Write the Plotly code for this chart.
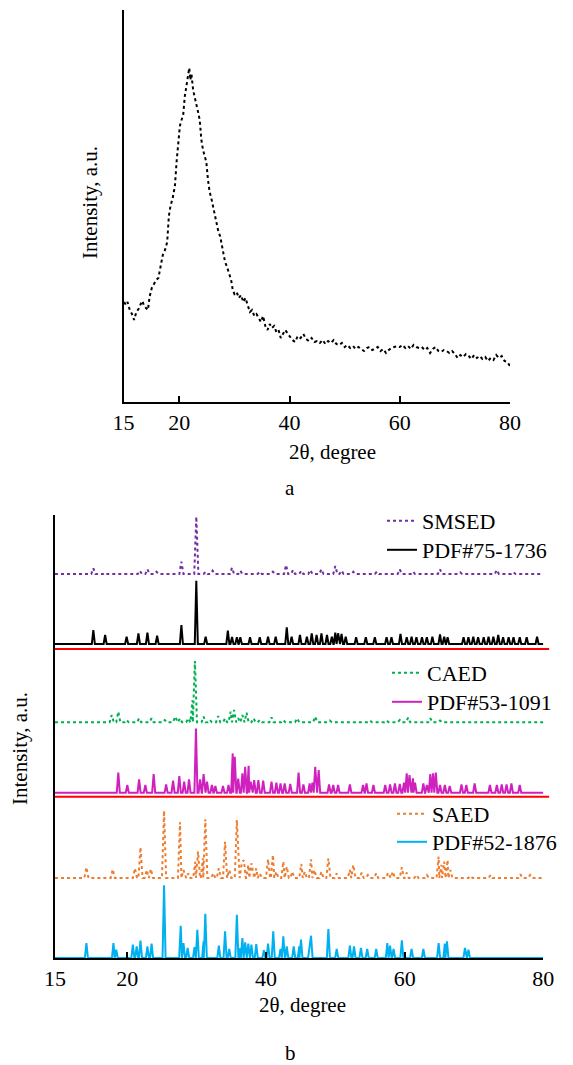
import plotly.graph_objects as go

FONT = "Liberation Serif"

# ---------------- (a) amorphous pattern ----------------
top_theta = [10.0, 10.3, 10.6, 11.0, 11.4, 11.8, 12.2, 12.6, 13.0, 13.3, 13.6, 14.0, 14.3, 14.6,
             15.0, 15.4, 15.8, 16.2, 16.6, 17.0, 17.4, 17.8, 18.1, 18.4, 18.8, 19.2, 19.5, 19.8,
             20.1, 20.4, 20.7, 21.0, 21.3, 21.6, 21.8, 22.0, 22.2, 22.5, 22.8, 23.1, 23.4, 23.7,
             24.0, 24.3, 24.6, 24.9, 25.2, 25.5, 25.8, 26.1, 26.5, 26.8, 27.1, 27.4, 27.7, 28.0,
             28.3, 28.6, 29.0, 29.4, 29.7, 30.0, 30.4, 30.8, 31.2, 31.6, 32.0, 32.4, 32.8, 33.2,
             33.6, 34.0, 34.4, 34.8, 35.2, 35.6, 36.0, 36.4, 36.8, 37.2, 37.6, 38.0, 38.4, 38.8,
             39.2, 39.6, 40.0, 40.5, 41.0, 41.5, 42.0, 42.5, 43.0, 43.5, 44.0, 44.5, 45.0, 45.5,
             46.0, 46.5, 47.0, 47.5, 48.0, 48.5, 49.0, 49.5, 50.0, 50.5, 51.0, 51.5, 52.0, 52.5,
             53.0, 53.5, 54.0, 54.5, 55.0, 55.5, 56.0, 56.5, 57.0, 57.5, 58.0, 58.5, 59.0, 59.5,
             60.0, 60.5, 61.0, 61.5, 62.0, 62.5, 63.0, 63.5, 64.0, 64.5, 65.0, 65.5, 66.0, 66.5,
             67.0, 67.5, 68.0, 68.5, 69.0, 69.5, 70.0, 70.5, 71.0, 71.5, 72.0, 72.5, 73.0, 73.5,
             74.0, 74.5, 75.0, 75.5, 76.0, 76.5, 77.0, 77.5, 78.0, 78.5, 79.0, 79.5, 80.0]
top_intensity = [100, 97, 100, 92, 88, 82, 90, 93, 98, 101, 96, 94, 92, 105,
                 114, 118, 122, 124, 136, 147, 152, 160, 186, 196, 204, 216, 240, 262,
                 276, 282, 287, 306, 318, 325, 334, 322, 328, 312, 305, 300, 290, 282,
                 262, 252, 246, 240, 222, 210, 204, 196, 186, 176, 170, 166, 156, 146,
                 140, 136, 128, 122, 112, 108, 110, 104, 107, 100, 104, 96, 90, 92,
                 86, 88, 84, 80, 86, 76, 72, 78, 74, 76, 70, 72, 64, 68,
                 72, 69, 66, 62, 60, 66, 64, 68, 63, 61, 64, 60, 61, 59,
                 62, 58, 61, 59, 62, 58, 57, 59, 55, 57, 54, 56, 53, 55,
                 53, 51, 54, 55, 52, 53, 55, 51, 53, 49, 52, 54, 55, 56,
                 55, 57, 54, 56, 53, 57, 55, 54, 55, 52, 54, 49, 53, 55,
                 51, 50, 52, 51, 49, 51, 48, 44, 47, 45, 48, 46, 43, 47,
                 44, 46, 43, 45, 41, 44, 42, 47, 44, 46, 41, 40, 36]
top_x_range = [9.87, 80]
top_y_max = 392
x_tick_vals_top = [9.87, 20, 40, 60, 80]
x_tick_text = ["15", "20", "40", "60", "80"]

# ---------------- (b) stacked crystalline patterns ----------------
smsed_pos = [15.1, 16.8, 21.8, 22.9, 24.2, 27.8, 29.95, 31.3, 32.3, 35.1, 36.3, 39.1, 41.0, 42.9,
             43.9, 45.1, 46.4, 48.0, 50.0, 50.9, 52.6, 56.0, 59.3, 61.2, 65.1, 68.0, 73.3, 75.7]
smsed_h = [5.7, 1.3, 3.3, 4.7, 2.3, 12.3, 57.3, 2.3, 3.3, 6.3, 3.3, 2.3, 2.3, 9.0,
           4.0, 3.3, 4.0, 4.7, 8.0, 3.3, 2.3, 2.3, 4.7, 2.3, 4.7, 1.7, 4.0, 1.7]

pdf75_pos = [15.1, 16.8, 19.9, 21.6, 22.9, 24.3, 27.8, 29.95, 31.3, 34.5, 35.1, 35.8, 36.3, 37.7,
             39.1, 40.3, 41.4, 43.0, 43.7, 44.9, 45.9, 46.6, 47.3, 48.0, 48.8, 49.5, 50.0, 50.4,
             50.9, 51.5, 53.0, 54.4, 55.7, 57.4, 58.1, 59.4, 60.3, 61.0, 61.7, 62.5, 63.2, 64.0,
             65.1, 65.7, 66.2, 68.5, 69.2, 69.9, 70.6, 71.4, 72.1, 72.8, 73.5, 74.2, 75.0, 75.7,
             76.6, 77.6, 79.1]
pdf75_h = [14.0, 9.0, 7.3, 10.7, 11.3, 8.3, 19.0, 63.3, 7.3, 13.3, 7.0, 6.7, 6.7, 6.7,
           6.7, 7.3, 7.3, 16.7, 7.3, 9.0, 7.3, 10.7, 9.0, 10.7, 9.0, 7.3, 11.3, 10.7,
           10.0, 7.3, 6.7, 6.7, 6.7, 6.7, 6.7, 10.0, 6.7, 7.3, 6.7, 6.7, 6.7, 7.3,
           9.7, 7.3, 6.7, 6.7, 6.7, 7.3, 6.7, 6.7, 7.3, 7.3, 9.0, 6.7, 6.7, 6.7,
           6.7, 6.7, 7.3]

caed_pos = [17.75, 18.7, 19.9, 21.7, 23.5, 25.4, 26.9, 27.6, 28.8, 29.4, 29.75, 31.0, 31.9, 33.1,
            34.1, 34.9, 35.4, 36.0, 36.6, 37.2, 38.2, 39.1, 40.8, 42.5, 44.5, 47.1, 49.2, 55.0,
            57.4, 59.3, 60.5, 63.7, 65.1]
caed_h = [7.3, 10.7, 2.3, 4.0, 4.0, 2.3, 5.7, 4.0, 4.0, 22.0, 61.3, 5.7, 2.3, 6.3,
          4.0, 10.7, 12.3, 4.0, 7.3, 9.7, 4.0, 2.3, 5.0, 2.3, 4.0, 5.7, 1.7, 1.7,
          1.7, 2.3, 4.7, 4.0, 1.7]

pdf53_pos = [18.7, 20.0, 21.7, 22.6, 23.8, 25.6, 26.6, 27.5, 28.2, 28.9, 29.9, 30.5, 31.0, 31.5,
             32.2, 32.7, 33.8, 34.6, 35.2, 35.5, 36.0, 36.6, 37.0, 37.5, 37.8, 38.3, 38.9, 39.6,
             40.8, 41.5, 42.1, 42.7, 43.5, 44.7, 45.4, 46.3, 46.7, 47.1, 47.6, 49.1, 49.7, 50.4,
             52.1, 54.0, 54.5, 55.5, 57.2, 57.9, 58.6, 59.3, 59.9, 60.3, 60.7, 61.2, 61.5, 62.7,
             63.2, 63.7, 64.1, 64.5, 65.1, 65.8, 66.5, 68.2, 68.9, 70.1, 72.3, 73.3, 74.0, 74.7,
             75.4, 76.6]
pdf53_h = [20.0, 7.7, 13.3, 7.7, 18.7, 8.3, 12.0, 16.7, 11.0, 13.3, 64.3, 13.3, 18.7, 11.0,
           7.7, 6.7, 6.7, 7.7, 39.3, 36.0, 14.0, 19.3, 26.0, 27.0, 11.0, 12.7, 12.7, 12.0,
           11.0, 10.0, 9.3, 9.3, 8.7, 20.0, 8.3, 9.3, 10.0, 26.0, 22.7, 8.3, 7.7, 7.7,
           8.3, 7.7, 9.3, 7.7, 7.7, 8.3, 9.3, 8.7, 10.0, 19.3, 17.7, 14.3, 10.0, 9.3,
           7.7, 18.7, 19.3, 20.0, 7.7, 7.7, 6.7, 8.3, 7.7, 9.3, 7.7, 7.7, 8.3, 8.3,
           9.3, 7.7]

saed_pos = [14.1, 17.9, 21.1, 21.9, 22.8, 23.4, 25.3, 27.6, 28.1, 28.8, 29.8, 30.2, 30.9, 31.25,
            32.4, 33.2, 34.1, 34.7, 35.8, 36.5, 36.8, 37.45, 37.9, 38.6, 39.1, 40.3, 41.0, 41.5,
            42.5, 43.0, 43.8, 45.1, 45.6, 46.5, 47.0, 48.0, 49.0, 50.2, 52.1, 52.6, 53.8, 54.7,
            55.9, 57.6, 58.3, 59.6, 60.3, 61.7, 63.2, 64.9, 65.3, 65.7, 66.2, 66.6, 69.5, 72.4,
            76.7, 78.1]
saed_h = [10.7, 8.7, 9.7, 30.7, 8.0, 9.0, 67.3, 55.7, 8.0, 4.7, 16.3, 26.3, 19.7, 58.7,
          4.7, 9.7, 36.3, 8.0, 58.0, 14.7, 18.0, 13.0, 14.7, 9.7, 4.7, 18.7, 23.0, 6.3,
          16.3, 11.3, 6.3, 14.0, 6.3, 18.7, 8.0, 6.3, 19.7, 4.7, 8.0, 13.0, 5.3, 3.0,
          4.7, 5.3, 6.3, 10.7, 5.3, 3.0, 3.0, 21.3, 13.0, 16.3, 18.0, 8.0, 2.0, 3.0,
          3.7, 3.0]

pdf52_pos = [14.1, 18.0, 18.4, 20.8, 21.35, 21.9, 22.9, 23.5, 25.3, 27.7, 28.1, 28.7, 29.7, 30.1,
             31.0, 31.25, 33.2, 34.1, 34.7, 35.8, 36.3, 36.6, 37.0, 37.45, 37.9, 38.6, 39.7, 40.3,
             41.05, 42.1, 42.5, 43.0, 44.0, 44.8, 45.05, 46.3, 46.5, 49.0, 50.2, 52.1, 52.7, 53.7,
             54.6, 55.9, 57.5, 57.9, 58.4, 59.6, 61.0, 62.7, 64.9, 65.8, 66.1, 68.7, 69.2]
pdf52_h = [15.0, 15.0, 8.3, 13.3, 11.7, 17.3, 11.7, 14.3, 72.7, 32.3, 15.0, 10.0, 11.0, 28.3,
           16.7, 44.3, 12.3, 26.7, 9.0, 43.3, 10.0, 20.0, 15.7, 14.3, 13.3, 14.0, 7.7, 14.3,
           26.7, 9.0, 21.7, 11.7, 11.7, 11.7, 18.3, 11.7, 22.3, 29.0, 9.0, 12.3, 11.7, 10.0,
           9.0, 9.0, 15.0, 12.3, 9.0, 17.7, 9.0, 9.0, 15.0, 14.3, 16.7, 10.0, 8.3]

series_names = ["SMSED", "PDF#75-1736", "CAED", "PDF#53-1091", "SAED", "PDF#52-1876"]
series_offsets = [384, 314, 235.7, 165.3, 80, 0]
separator_levels = [161.3, 309]
bottom_x_range = [9.57, 80]
bottom_y_max = 443
x_tick_vals_bottom = [9.57, 20, 40, 60, 80]


def profile(pos, hgt, offset, hw, xmin, xmax):
    pairs = sorted(zip(pos, hgt))
    xs, ys = [xmin], [offset]
    for i, (p, h) in enumerate(pairs):
        if p - hw > xs[-1]:
            xs.append(p - hw); ys.append(offset)
        xs.append(p); ys.append(offset + h)
        nxt = pairs[i + 1][0] - hw if i + 1 < len(pairs) else xmax
        if p + hw < nxt:
            xs.append(p + hw); ys.append(offset)
    xs.append(xmax); ys.append(offset)
    return xs, ys


W, H = 573, 1065

fig = go.Figure()

fig.add_trace(go.Scatter(x=top_theta, y=top_intensity, mode="lines",
                         line=dict(color="black", width=2, dash="dot"),
                         showlegend=False, xaxis="x", yaxis="y"))

# legend placement (pixels from top-left): left x, top y
styles = [
    dict(data=(smsed_pos, smsed_h), color="#7030A0", dash="dot", hw=0.3, lx=382, ly=500),
    dict(data=(pdf75_pos, pdf75_h), color="#000000", dash="solid", hw=0.22, lx=382, ly=529),
    dict(data=(caed_pos, caed_h), color="#00B050", dash="dot", hw=0.3, lx=387, ly=652),
    dict(data=(pdf53_pos, pdf53_h), color="#D020BE", dash="solid", hw=0.22, lx=387, ly=681),
    dict(data=(saed_pos, saed_h), color="#ED7D31", dash="dot", hw=0.3, lx=392, ly=793),
    dict(data=(pdf52_pos, pdf52_h), color="#00B0F0", dash="solid", hw=0.22, lx=392, ly=821),
]
leg_common = dict(bgcolor="rgba(0,0,0,0)", borderwidth=0,
                  font=dict(family=FONT, size=22, color="black"),
                  xanchor="left", yanchor="top", itemclick=False, itemdoubleclick=False)
legend_layout = {}
for i, (name, off, st) in enumerate(zip(series_names, series_offsets, styles)):
    key = "legend" if i == 0 else f"legend{i + 1}"
    xs, ys = profile(st["data"][0], st["data"][1], off, st["hw"], bottom_x_range[0], 80)
    fig.add_trace(go.Scatter(x=xs, y=ys, mode="lines", name=name,
                             line=dict(color=st["color"], width=2, dash=st["dash"]),
                             legend=key, xaxis="x2", yaxis="y2"))
    legend_layout[key] = dict(x=st["lx"] / W, y=1 - st["ly"] / H, **leg_common)

for lvl in separator_levels:
    fig.add_shape(type="line", xref="x2 domain", yref="y2", x0=0, x1=1.012, y0=lvl, y1=lvl,
                  line=dict(color="#FF0000", width=2))

axis_common = dict(showline=True, linecolor="black", linewidth=2, showgrid=False, zeroline=False,
                   ticks="inside", tickcolor="black", tickwidth=1.5, automargin=False,
                   tickfont=dict(family=FONT, size=22, color="black"))

fig.update_layout(
    width=W, height=H, margin=dict(l=0, r=0, t=0, b=0, autoexpand=False),
    paper_bgcolor="white", plot_bgcolor="white",
    font=dict(family=FONT, color="black"),
    xaxis=dict(domain=[123.5 / W, 510 / W], anchor="y", range=top_x_range,
               tickmode="array", tickvals=x_tick_vals_top, ticktext=x_tick_text, ticklen=6,
               **axis_common),
    yaxis=dict(domain=[1 - 402 / H, 1 - 10 / H], anchor="x", range=[0, top_y_max],
               tickmode="array", tickvals=[top_y_max], showticklabels=False, ticklen=8,
               **axis_common),
    xaxis2=dict(domain=[55 / W, 543.3 / W], anchor="y2", range=bottom_x_range,
                tickmode="array", tickvals=x_tick_vals_bottom, ticktext=x_tick_text, ticklen=6,
                **axis_common),
    yaxis2=dict(domain=[1 - 958 / H, 1 - 515 / H], anchor="x2", range=[0, bottom_y_max],
                tickmode="array", tickvals=[bottom_y_max], showticklabels=False, ticklen=10,
                **axis_common),
    **legend_layout,
)

ann_font = dict(family=FONT, size=21, color="black")
annotations = [
    dict(text="2θ, degree", x=332 / W, y=1 - 452 / H),
    dict(text="a", x=290 / W, y=1 - 488 / H),
    dict(text="2θ, degree", x=303 / W, y=1 - 1005 / H),
    dict(text="b", x=290 / W, y=1 - 1053 / H),
    dict(text="Intensity, a.u.", x=90 / W, y=1 - 203 / H, textangle=-90),
    dict(text="Intensity, a.u.", x=20 / W, y=1 - 749 / H, textangle=-90),
]
for a in annotations:
    fig.add_annotation(xref="paper", yref="paper", showarrow=False, xanchor="center",
                       yanchor="middle", font=ann_font, **a)

fig.write_html("out.html", config={"displayModeBar": False},
               post_script="document.body.style.margin='0px';")
